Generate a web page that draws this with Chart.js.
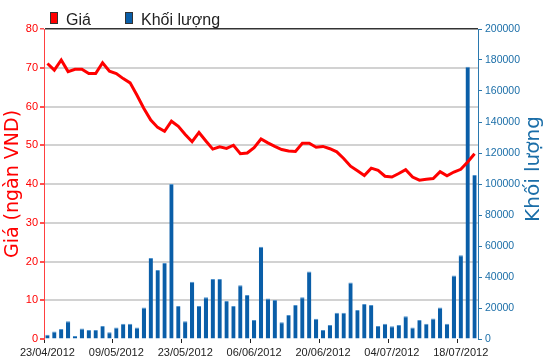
<!DOCTYPE html>
<html>
<head>
<meta charset="utf-8">
<script src="https://cdn.jsdelivr.net/npm/chart.js@4.4.1/dist/chart.umd.min.js"></script>
<style>
  body { margin: 0; background: #fff; }
  #wrap { width: 550px; height: 364px; }
</style>
</head>
<body>
<div id="wrap"><canvas id="chart" width="550" height="364"></canvas></div>
<script>
// ngày giao dịch (trục x)
const dates = [
    '23/04/2012', '24/04/2012', '25/04/2012', '26/04/2012', '27/04/2012',
    '02/05/2012', '03/05/2012', '04/05/2012', '07/05/2012', '08/05/2012',
    '09/05/2012', '10/05/2012', '11/05/2012', '14/05/2012', '15/05/2012',
    '16/05/2012', '17/05/2012', '18/05/2012', '21/05/2012', '22/05/2012',
    '23/05/2012', '24/05/2012', '25/05/2012', '28/05/2012', '29/05/2012',
    '30/05/2012', '31/05/2012', '01/06/2012', '04/06/2012', '05/06/2012',
    '06/06/2012', '07/06/2012', '08/06/2012', '11/06/2012', '12/06/2012',
    '13/06/2012', '14/06/2012', '15/06/2012', '18/06/2012', '19/06/2012',
    '20/06/2012', '21/06/2012', '22/06/2012', '25/06/2012', '26/06/2012',
    '27/06/2012', '28/06/2012', '29/06/2012', '02/07/2012', '03/07/2012',
    '04/07/2012', '05/07/2012', '06/07/2012', '09/07/2012', '10/07/2012',
    '11/07/2012', '12/07/2012', '13/07/2012', '16/07/2012', '17/07/2012',
    '18/07/2012', '19/07/2012', '20/07/2012'
];

// Giá (ngàn VND)
const gia = [
    71.1, 69.4, 72.0, 69.0, 69.6, 69.6, 68.5, 68.5, 71.3, 69.1,
    68.5, 67.2, 66.1, 62.9, 59.5, 56.5, 54.6, 53.6, 56.2, 54.9,
    52.8, 50.9, 53.3, 51.1, 49.0, 49.6, 49.2, 50.0, 47.8, 48.0,
    49.4, 51.6, 50.6, 49.7, 48.9, 48.5, 48.4, 50.5, 50.5, 49.5,
    49.7, 49.1, 48.3, 46.6, 44.6, 43.4, 42.2, 44.1, 43.5, 42.0,
    41.8, 42.7, 43.7, 41.8, 41.0, 41.2, 41.4, 43.2, 42.1, 43.1,
    43.8, 45.7, 47.8
];

// Khối lượng
const khoiLuong = [
    2800, 4900, 6500, 11400, 1900, 6700, 5800, 5800, 8400, 4300,
    7500, 9900, 9900, 7500, 20400, 52200, 44500, 49000, 100000, 21300,
    11400, 37000, 21300, 26900, 38700, 38700, 24500, 21300, 34600, 28400,
    12200, 59500, 26200, 25200, 10800, 15500, 21900, 26900, 43600, 13100,
    5800, 9000, 17000, 17000, 36500, 18700, 22600, 21900, 8400, 9900,
    8200, 9000, 14600, 7500, 12300, 9900, 13300, 20400, 9900, 41000,
    54000, 175700, 105800
];

const RED = '#ff0000';
const BLUE = '#0a5ea8';
const AXIS_BLUE = '#2a78ae';
const TICK_FONT = 'Liberation Sans, Arial, sans-serif';

// legend + tiêu đề trục (tiêu đề bên phải đọc từ dưới lên)
const decorPlugin = {
    id: 'decor',
    afterDraw(chart) {
        const ctx = chart.ctx;
        const area = chart.chartArea;
        ctx.save();

        const items = [
            { text: 'Giá', color: RED, x: 50 },
            { text: 'Khối lượng', color: BLUE, x: 125 }
        ];
        ctx.font = '16px ' + TICK_FONT;
        ctx.textBaseline = 'alphabetic';
        items.forEach(item => {
            ctx.fillStyle = item.color;
            ctx.fillRect(item.x, 12, 8, 12);
            ctx.strokeStyle = '#333';
            ctx.lineWidth = 1;
            ctx.strokeRect(item.x + 0.5, 12.5, 7, 11);
            ctx.fillStyle = '#222';
            ctx.fillText(item.text, item.x + 16, 25);
        });

        const midY = (area.top + area.bottom) / 2;
        ctx.textAlign = 'center';
        ctx.textBaseline = 'middle';

        ctx.save();
        ctx.translate(chart.scales.y.left + 13, midY);
        ctx.rotate(-Math.PI / 2);
        ctx.font = '19px DejaVu Sans, sans-serif';
        ctx.fillStyle = RED;
        ctx.fillText('Giá (ngàn VND)', 0, 0);
        ctx.restore();

        ctx.save();
        ctx.translate(chart.scales.y1.right - 16, midY - 15);
        ctx.rotate(-Math.PI / 2);
        ctx.font = '20px DejaVu Sans, sans-serif';
        ctx.fillStyle = '#1b6ea8';
        ctx.fillText('Khối lượng', 0, 0);
        ctx.restore();

        ctx.restore();
    }
};

const config = {
    type: 'bar',
    data: {
        labels: dates,
        datasets: [{
            type: 'line',
            label: 'Giá',
            data: gia,
            yAxisID: 'y',
            borderColor: RED,
            backgroundColor: RED,
            borderWidth: 3,
            pointRadius: 0,
            tension: 0,
            order: 0
        }, {
            type: 'bar',
            label: 'Khối lượng',
            data: khoiLuong,
            yAxisID: 'y1',
            backgroundColor: BLUE,
            borderColor: '#4f92cc',
            borderWidth: { top: 1, left: 0, right: 0, bottom: 0 },
            borderSkipped: false,
            categoryPercentage: 1,
            barPercentage: 0.62,
            order: 1
        }]
    },
    options: {
        responsive: false,
        animation: false,
        layout: { padding: { top: 29, left: 0, right: 0, bottom: 0 } },
        plugins: {
            legend: { display: false },
            tooltip: { enabled: false }
        },
        scales: {
            x: {
                offset: true,
                grid: {
                    drawOnChartArea: false,
                    tickLength: 4,
                    tickColor: c => (c.index % 10 === 0 ? '#222' : 'rgba(0,0,0,0)')
                },
                border: { display: false },
                ticks: {
                    autoSkip: false,
                    maxRotation: 0,
                    padding: 3,
                    color: '#222',
                    font: { family: TICK_FONT, size: 11 },
                    callback: function (val, i) { return i % 10 === 0 ? dates[i] : ''; }
                },
                afterFit: s => { s.height = 25; }
            },
            y: {
                position: 'left',
                min: 0,
                max: 80,
                ticks: {
                    stepSize: 10,
                    padding: 2,
                    color: RED,
                    font: { family: TICK_FONT, size: 11 }
                },
                grid: {
                    color: c => (c.tick.value === 80 ? '#333' : c.tick.value === 0 ? 'rgba(0,0,0,0)' : '#d2d2d2'),
                    lineWidth: c => (c.tick.value === 80 ? 1.5 : 2),
                    tickColor: '#ff5050',
                    tickLength: 4
                },
                border: { color: '#ff4040', width: 1 },
                afterFit: s => { s.width = 44; }
            },
            y1: {
                position: 'right',
                min: 0,
                max: 200000,
                ticks: {
                    stepSize: 20000,
                    padding: 3,
                    color: '#1b6ea8',
                    font: { family: TICK_FONT, size: 10.5 },
                    callback: v => String(v)
                },
                grid: {
                    drawOnChartArea: false,
                    tickColor: AXIS_BLUE,
                    tickLength: 4
                },
                border: { color: AXIS_BLUE, width: 1 },
                afterFit: s => { s.width = 72; }
            }
        }
    },
    plugins: [decorPlugin]
};

const chart = new Chart(document.getElementById('chart'), config);
</script>
</body>
</html>
